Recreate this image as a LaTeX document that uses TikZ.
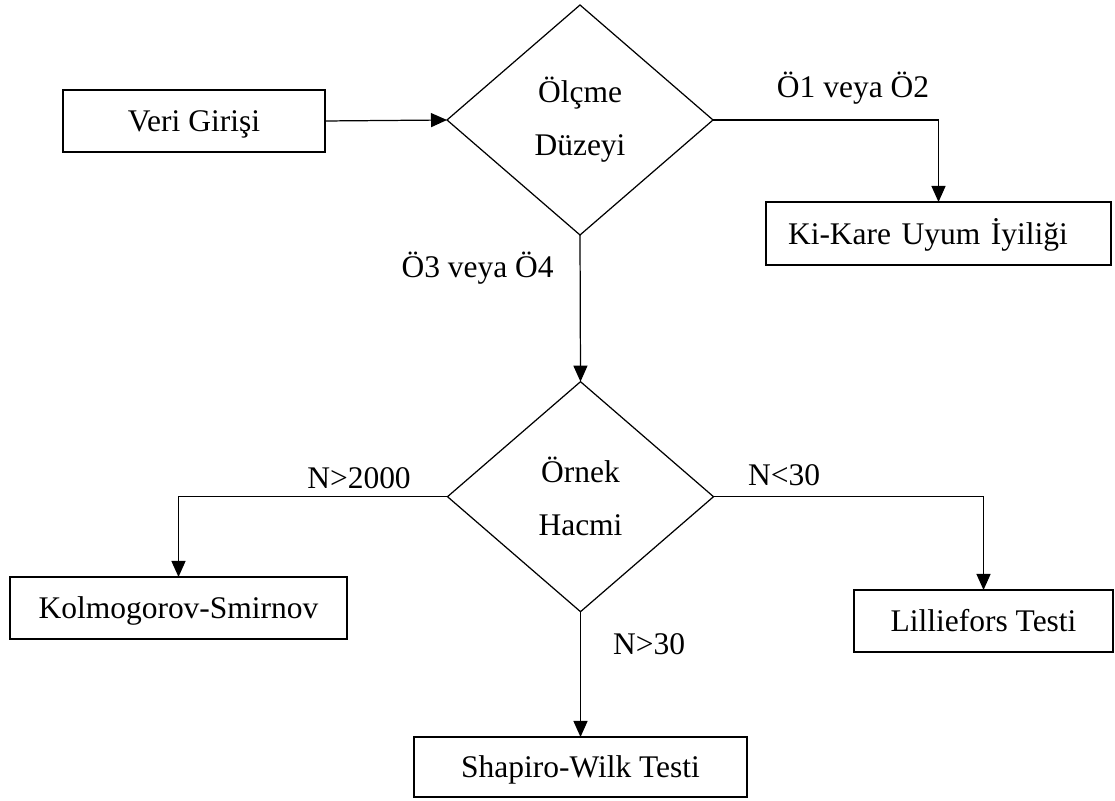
\documentclass[tikz,border=0pt]{standalone}
\usepackage{fontspec}
\setmainfont{Liberation Serif}
\usetikzlibrary{arrows.meta, shapes}

\begin{document}
\begin{tikzpicture}[->, >={Triangle[length=0.16cm, width=0.14cm]}, line width=0.35pt, font=\fontsize{8.96}{15.1}\selectfont,
		every node/.style={outer sep=0pt},
		box/.style={draw, rectangle, inner sep=0pt, minimum height=0.62cm, text height=0.75em, text depth=0.15em},
		cond/.style={draw, diamond, inner sep=0pt, align=center, minimum width=2.66cm, minimum height=2.30cm}]
		\useasboundingbox (0,0) rectangle (11.15,-8.01);
		
		\node[box, minimum width=2.62cm] (0) at (1.94, -1.21) {Veri Girişi};
		\node[cond] (1) at (5.80, -1.20) {Ölçme\\Düzeyi};
		\node[box, minimum width=3.45cm, minimum height=0.63cm, inner xsep=0.22cm, text width=3.01cm, align=left] (2) at (9.385, -2.335) {Ki-Kare Uyum İyiliği};
		
		\node[cond] (3) at (5.805, -4.967) {Örnek\\Hacmi};
		\node[box, minimum width=3.37cm] (4) at (1.785, -6.08) {Kolmogorov-Smirnov};
		\node[box, minimum width=2.59cm] (5) at (9.835, -6.21) {Lilliefors Testi};
		\node[box, minimum width=3.33cm, minimum height=0.60cm] (6) at (5.805, -7.67) {Shapiro-Wilk Testi};
		
		\node[anchor=base] (l1) at (8.53, -0.98) {Ö1 veya Ö2};
		\node[anchor=base] (l2) at (4.776, -2.775) {Ö3 veya Ö4};
		\node[anchor=base] (l3) at (3.59, -4.89) {N>2000};
		\node[anchor=base] (l4) at (7.84, -4.86) {N<30};
		\node[anchor=base] (l5) at (6.49, -6.55) {N>30};
		
		\draw (0.east) -- (1.west);
		\draw (1.east) -| (2.north);
		\draw (1.south) -- (3.north);
		\draw (3.west) -| (4.north);
		\draw (3.east) -| (5.north);
		\draw (3.south) -- (6.north);
	\end{tikzpicture}
\end{document}
